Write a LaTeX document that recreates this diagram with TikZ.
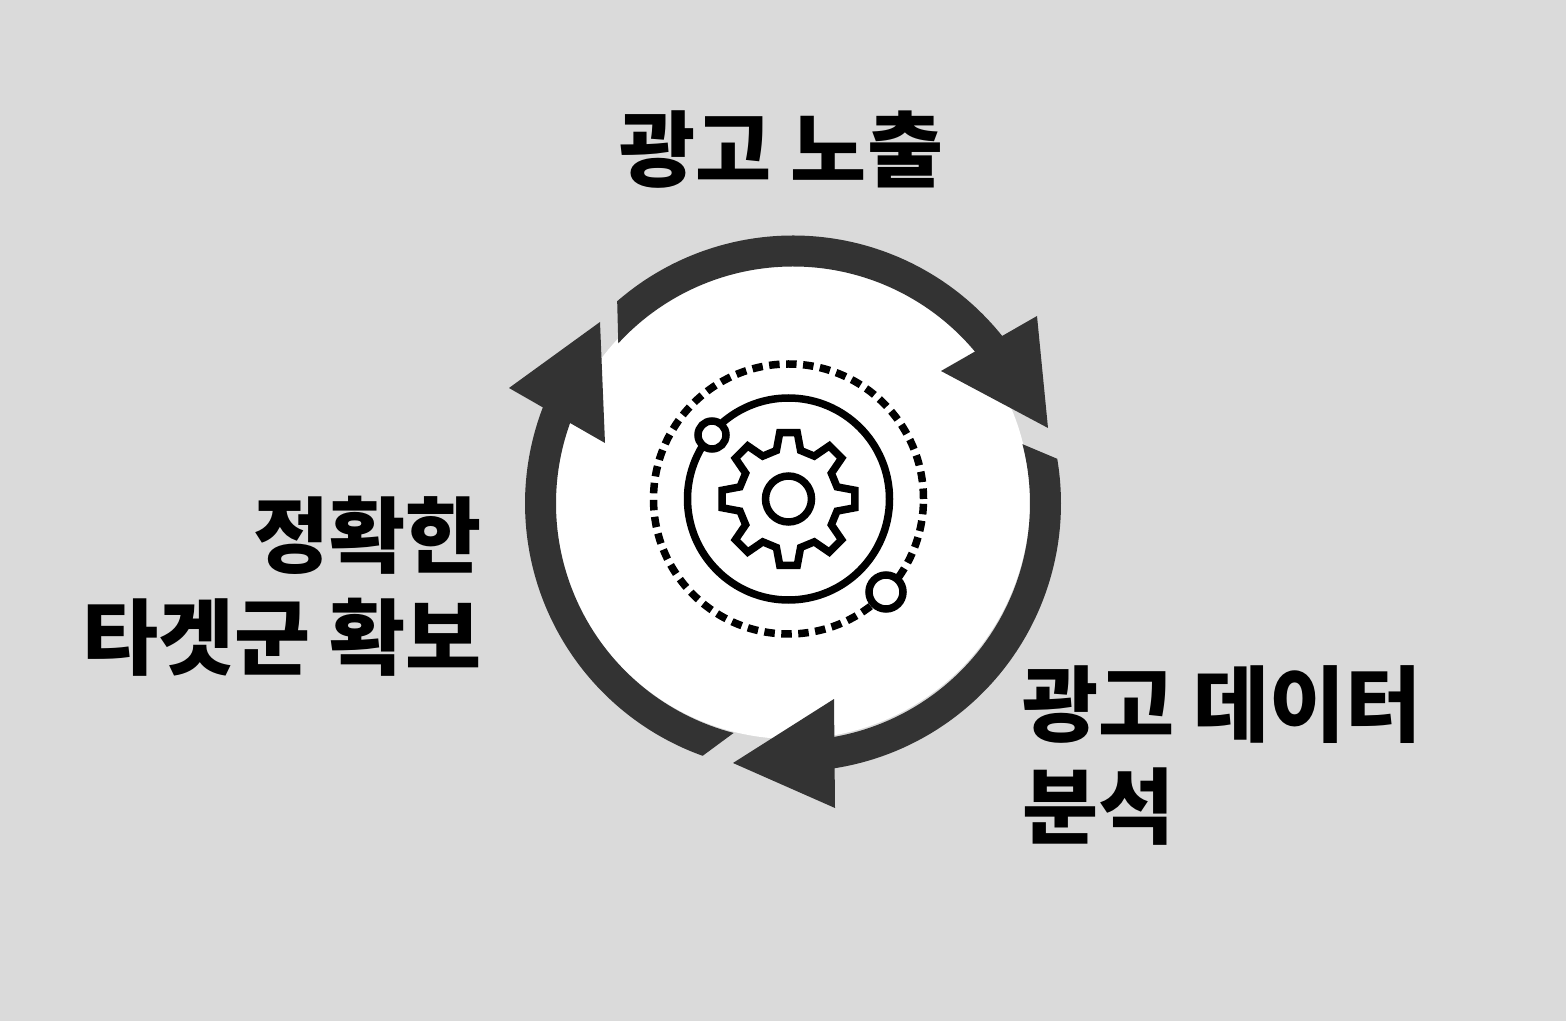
\documentclass[tikz,border=0pt]{standalone}
\usepackage{fontspec}
\newfontfamily\krfont{Noto Sans CJK KR}
\begin{document}
\begin{tikzpicture}[x=1pt,y=1pt]
\definecolor{bggrey}{RGB}{218,218,218}
\definecolor{banddark}{RGB}{51,51,51}
\tikzstyle{every node}=[inner sep=0pt, outer sep=0pt]
\tikzstyle{label text}=[font=\krfont\bfseries\fontsize{82.7}{102}\selectfont, text=black]
\tikzstyle{band}=[fill=banddark]
\tikzstyle{icon line}=[draw=black, line width=7.5pt, line join=miter]
\tikzstyle{ring dot}=[circle, draw=black, fill=white, line width=7.5pt]
\useasboundingbox (0,0) rectangle (1566,1021);
\fill[bggrey] (0,0) rectangle (1566,1021);

\fill[white] (792,520) circle (238);

\begin{scope}[shift={(793,517.5)}]
\fill[band] (131:268) arc[start angle=131, end angle=33, radius=268]
  -- (33:237) arc[start angle=33, end angle=137.5, radius=237] -- cycle;
\fill[band] (9.6:268) arc[start angle=9.6, end angle=-85, radius=268]
  -- (-85:237) arc[start angle=-85, end angle=14.5, radius=237] -- cycle;
\fill[band] (250.3:268) arc[start angle=250.3, end angle=150, radius=268]
  -- (150:237) arc[start angle=150, end angle=255.5, radius=237] -- cycle;
\end{scope}
\fill[band] (1037,705) -- (1048,593) -- (941,650) -- cycle;
\fill[band] (834,322) -- (835,213) -- (733,258) -- cycle;
\fill[band] (600,699) -- (605,578) -- (509,633) -- cycle;

\begin{scope}[shift={(788.5,522)}]
\draw[icon line, dash pattern=on 10.5pt off 6.5pt] (0,0) circle (135);
\draw[icon line] (0,0) circle (101);
\draw[icon line] (0,0) circle (23);
\draw[icon line] (-14:50) \foreach \a in {0,45,...,315} {
  -- (\a-14:50) -- (\a-7.5:67) -- (\a+7.5:67) -- (\a+14:50)} -- cycle;
\end{scope}
\node[ring dot, minimum size=28pt] (dotUpper) at (712,586) {};
\node[ring dot, minimum size=34pt] (dotLower) at (886,429) {};

\node[label text, anchor=center] (labelTop) at (781.5,871) {광고 노출};
\node[label text, anchor=east, align=right] (labelLeft) at (482,435) {정확한\\타겟군 확보};
\node[label text, anchor=west, align=left] (labelRight) at (1022,266) {광고 데이터\\분석};
\end{tikzpicture}
\end{document}
